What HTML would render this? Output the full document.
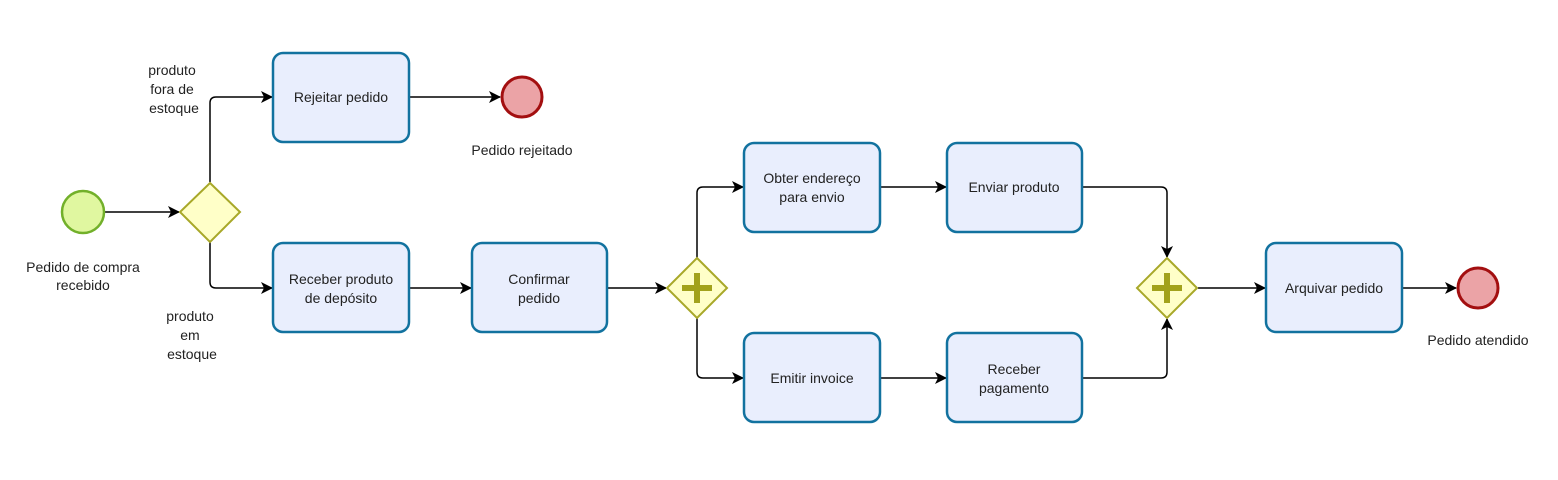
<!DOCTYPE html>
<html><head><meta charset="utf-8"><style>
html,body{margin:0;padding:0;background:#fff;}
svg text{font-family:"Liberation Sans",sans-serif;font-size:14px;fill:#222;}
</style></head><body>
<svg width="1558" height="475" viewBox="0 0 1558 475" xmlns="http://www.w3.org/2000/svg">
<defs><marker id="a" markerWidth="12" markerHeight="12" refX="11" refY="6" orient="auto" markerUnits="userSpaceOnUse"><path d="M0,0 L12,6 L0,12 L3,6 Z" fill="#000"/></marker></defs>
<g fill="none" stroke="#000" stroke-width="1.5">
<line x1="104" y1="212" x2="179" y2="212" marker-end="url(#a)"/>
<path d="M210,182 V103 Q210,97 216,97 H272" marker-end="url(#a)"/>
<path d="M210,242 V282 Q210,288 216,288 H272" marker-end="url(#a)"/>
<line x1="410" y1="97" x2="500" y2="97" marker-end="url(#a)"/>
<line x1="410" y1="288" x2="471" y2="288" marker-end="url(#a)"/>
<line x1="608" y1="288" x2="666" y2="288" marker-end="url(#a)"/>
<path d="M697,258 V193 Q697,187 703,187 H743" marker-end="url(#a)"/>
<path d="M697,318 V372 Q697,378 703,378 H743" marker-end="url(#a)"/>
<line x1="881" y1="187" x2="946" y2="187" marker-end="url(#a)"/>
<line x1="881" y1="378" x2="946" y2="378" marker-end="url(#a)"/>
<path d="M1083,187 H1161 Q1167,187 1167,193 V257" marker-end="url(#a)"/>
<path d="M1083,378 H1161 Q1167,378 1167,372 V319" marker-end="url(#a)"/>
<line x1="1198" y1="288" x2="1265" y2="288" marker-end="url(#a)"/>
<line x1="1403" y1="288" x2="1456" y2="288" marker-end="url(#a)"/>
</g>
<circle cx="83" cy="212" r="21" fill="#e0f7a0" stroke="#72b02a" stroke-width="2.5"/>
<circle cx="522" cy="97" r="20" fill="#eba3a6" stroke="#a30f10" stroke-width="3"/>
<circle cx="1478" cy="288" r="20" fill="#eba3a6" stroke="#a30f10" stroke-width="3"/>
<polygon points="210,183 240,212 210,242 180,212" fill="#ffffc8" stroke="#a8a829" stroke-width="2"/>
<polygon points="697,258 727,288 697,318 667,288" fill="#ffffc8" stroke="#a8a829" stroke-width="2"/>
<polygon points="1167,258 1197,288 1167,318 1137,288" fill="#ffffc8" stroke="#a8a829" stroke-width="2"/>
<g stroke="#a2a21b" stroke-width="6"><line x1="697" y1="273" x2="697" y2="303"/><line x1="682" y1="288" x2="712" y2="288"/><line x1="1167" y1="273" x2="1167" y2="303"/><line x1="1152" y1="288" x2="1182" y2="288"/></g>
<g fill="#e9eefd" stroke="#12729f" stroke-width="2.5">
<rect x="273" y="53" width="136" height="89" rx="10"/>
<rect x="273" y="243" width="136" height="89" rx="10"/>
<rect x="472" y="243" width="135" height="89" rx="10"/>
<rect x="744" y="143" width="136" height="89" rx="10"/>
<rect x="947" y="143" width="135" height="89" rx="10"/>
<rect x="744" y="333" width="136" height="89" rx="10"/>
<rect x="947" y="333" width="135" height="89" rx="10"/>
<rect x="1266" y="243" width="136" height="89" rx="10"/>
</g>
<g text-anchor="middle">
<text x="341" y="102">Rejeitar pedido</text>
<text x="341" y="284">Receber produto</text><text x="341" y="303">de depósito</text>
<text x="539" y="284">Confirmar</text><text x="539" y="303">pedido</text>
<text x="812" y="183">Obter endereço</text><text x="812" y="202">para envio</text>
<text x="1014" y="192">Enviar produto</text>
<text x="812" y="383">Emitir invoice</text>
<text x="1014" y="374">Receber</text><text x="1014" y="393">pagamento</text>
<text x="1334" y="293">Arquivar pedido</text>
<text x="83" y="272">Pedido de compra</text><text x="83" y="290">recebido</text>
<text x="522" y="155">Pedido rejeitado</text>
<text x="1478" y="345">Pedido atendido</text>
<text x="172" y="75">produto</text><text x="172" y="94">fora de</text><text x="174" y="113">estoque</text>
<text x="190" y="321">produto</text><text x="190" y="340">em</text><text x="192" y="359">estoque</text>
</g>
</svg>
</body></html>
